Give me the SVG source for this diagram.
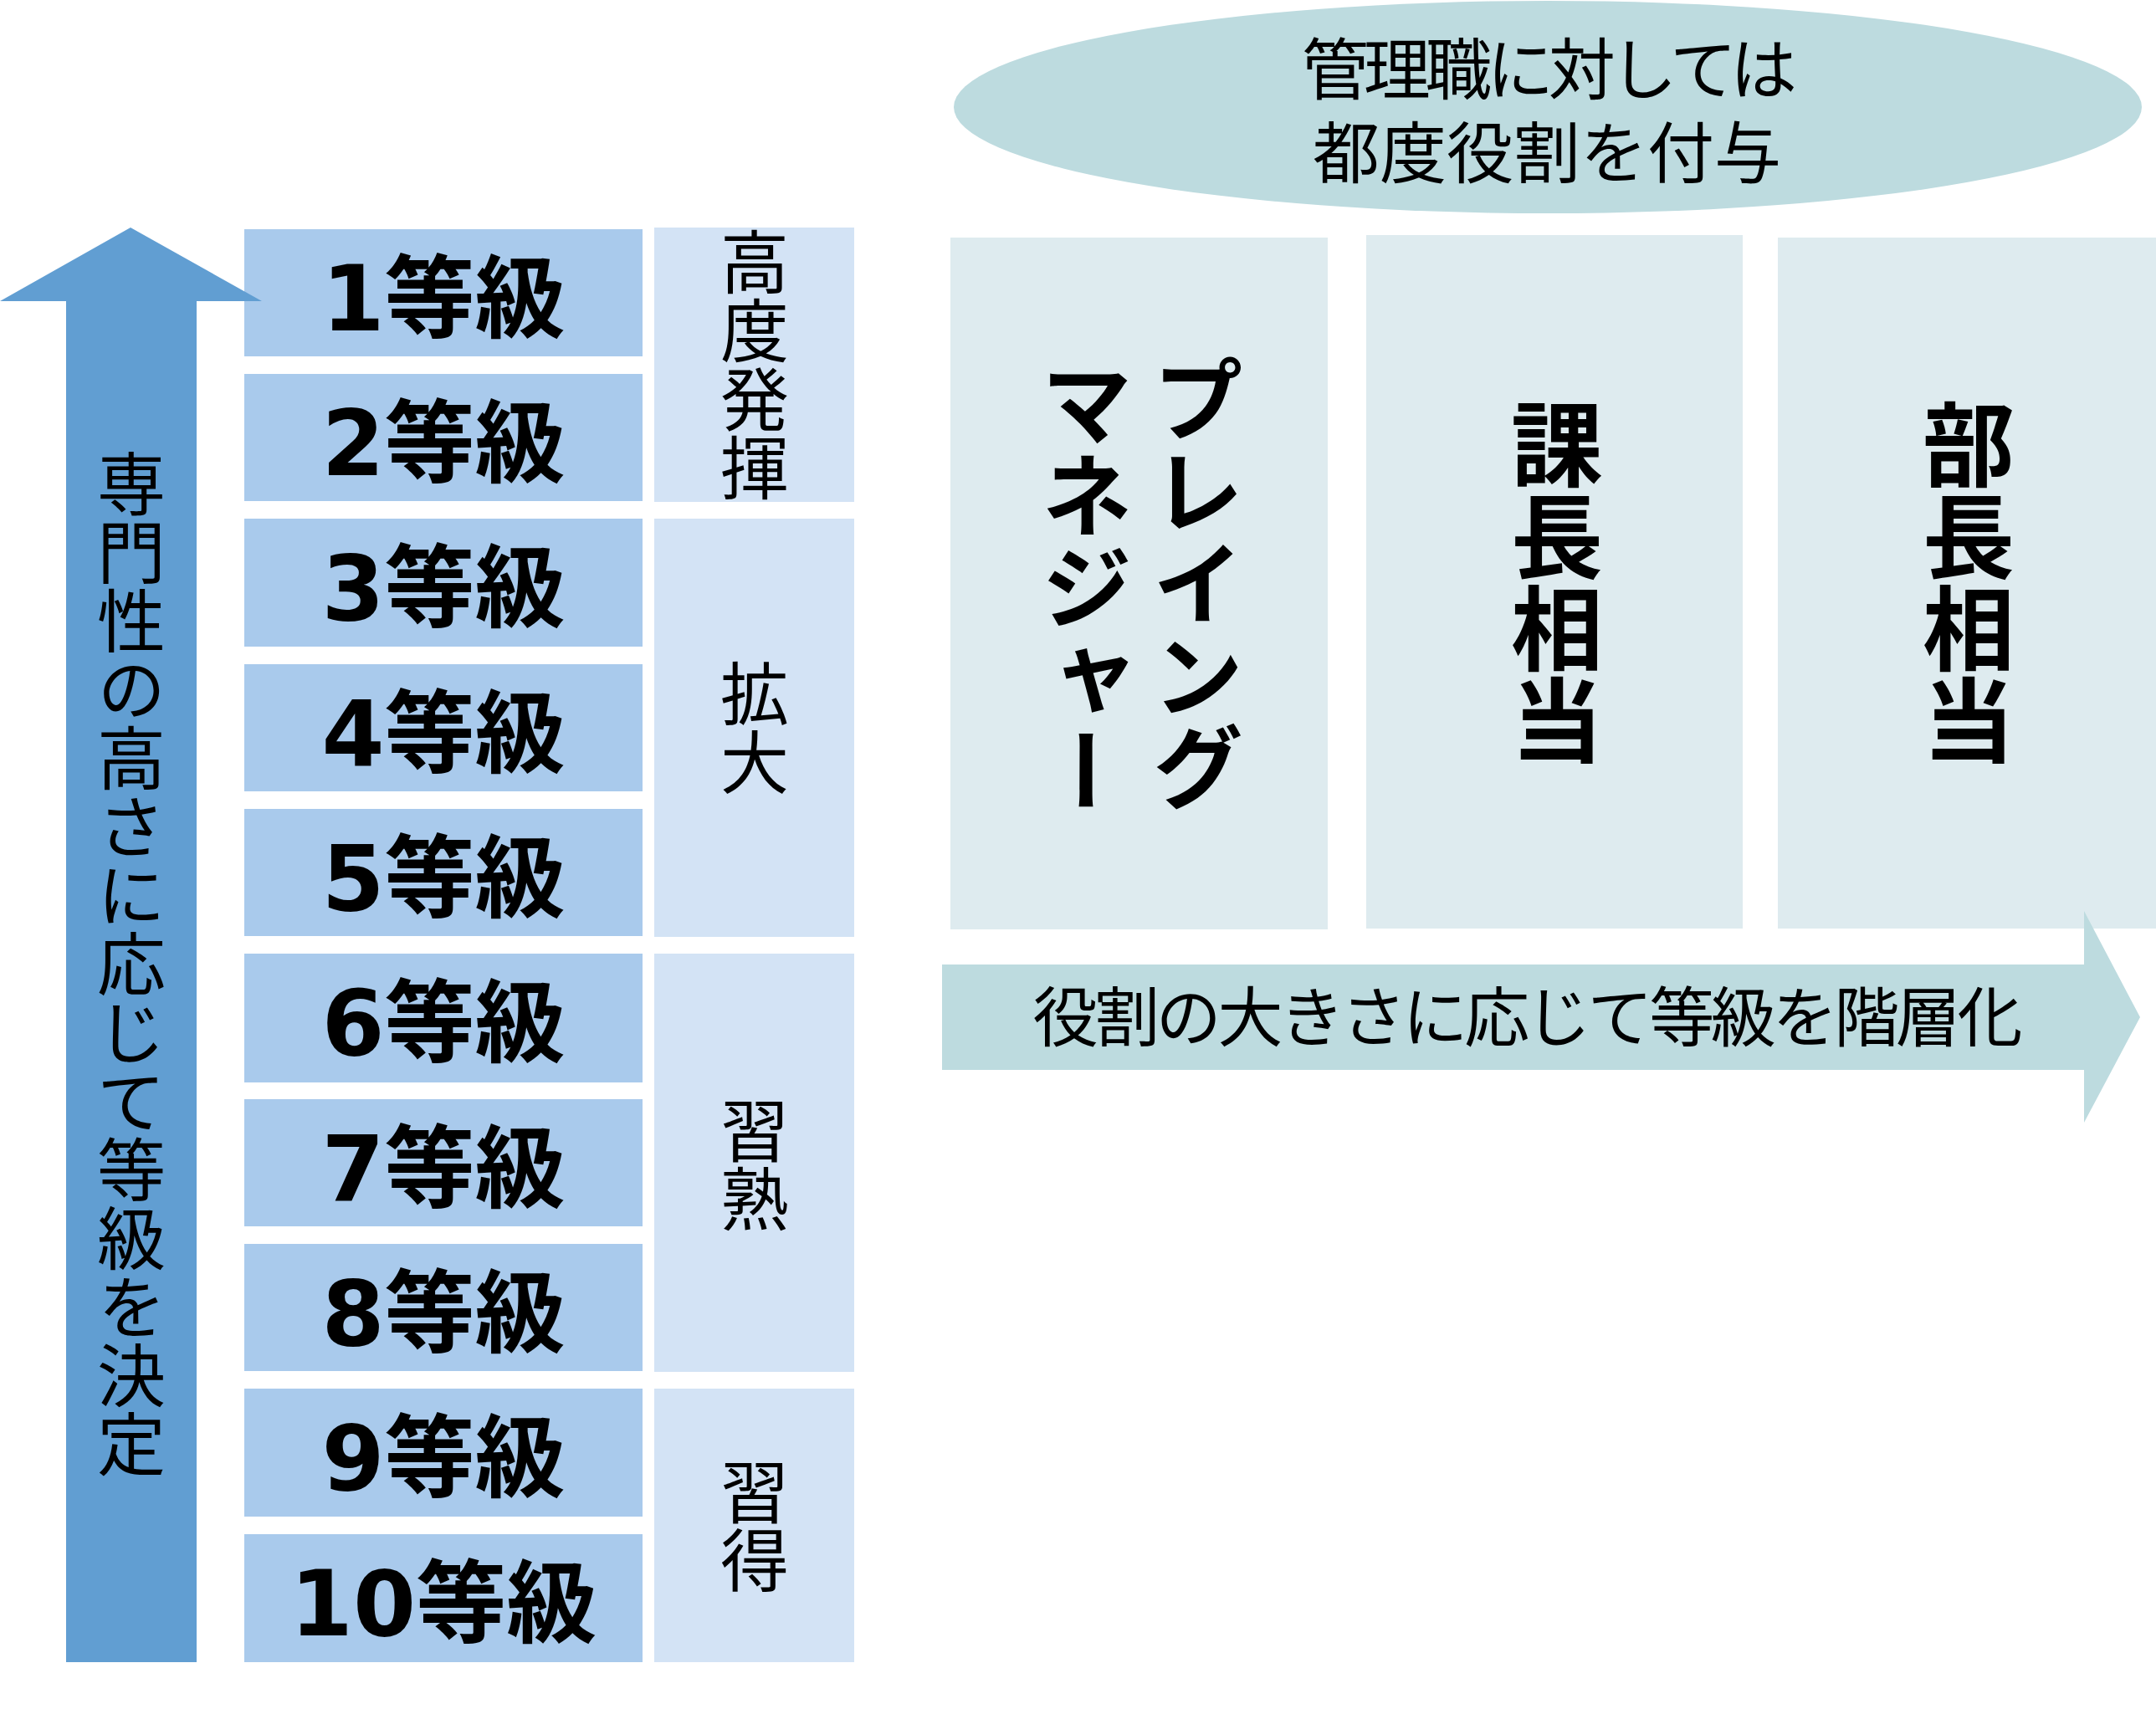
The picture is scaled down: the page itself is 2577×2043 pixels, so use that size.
<svg xmlns="http://www.w3.org/2000/svg" width="2577" height="2043" viewBox="0 0 2577 2043">
<defs>
<style>
.grade{fill:#A9CAEC}
.group{fill:#D3E3F5}
.panel{fill:#DEEBEF}
.teal{fill:#BDDBDF}
.glbl{font-family:"DejaVu Sans","Noto Sans CJK JP",sans-serif;font-weight:700;font-size:108px;fill:#000;text-anchor:middle}
.vt{font-family:"Noto Sans CJK JP",sans-serif;font-size:82px;fill:#000;writing-mode:vertical-rl;text-anchor:middle}
.vb{font-family:"Noto Sans CJK JP",sans-serif;font-weight:700;font-size:110px;fill:#000;writing-mode:vertical-rl;text-anchor:middle}
.ht{font-family:"Noto Sans CJK JP",sans-serif;font-size:80px;fill:#000;text-anchor:middle}
</style>
</defs>
<rect width="2577" height="2043" fill="#FFFFFF"/>
<g id="grade1"><rect class="grade" x="292" y="274" width="476" height="152"/><text class="glbl" x="530" y="395">1等級</text></g>
<g id="grade2"><rect class="grade" x="292" y="447" width="476" height="152"/><text class="glbl" x="530" y="568">2等級</text></g>
<g id="grade3"><rect class="grade" x="292" y="620" width="476" height="153"/><text class="glbl" x="530" y="741">3等級</text></g>
<g id="grade4"><rect class="grade" x="292" y="794" width="476" height="152"/><text class="glbl" x="530" y="915">4等級</text></g>
<g id="grade5"><rect class="grade" x="292" y="967" width="476" height="152"/><text class="glbl" x="530" y="1088">5等級</text></g>
<g id="grade6"><rect class="grade" x="292" y="1140" width="476" height="154"/><text class="glbl" x="530" y="1261">6等級</text></g>
<g id="grade7"><rect class="grade" x="292" y="1314" width="476" height="152"/><text class="glbl" x="530" y="1435">7等級</text></g>
<g id="grade8"><rect class="grade" x="292" y="1487" width="476" height="152"/><text class="glbl" x="530" y="1608">8等級</text></g>
<g id="grade9"><rect class="grade" x="292" y="1660" width="476" height="153"/><text class="glbl" x="530" y="1781">9等級</text></g>
<g id="grade10"><rect class="grade" x="292" y="1834" width="476" height="153"/><text class="glbl" x="530" y="1955">10等級</text></g>
<g id="group-high"><rect class="group" x="782" y="272" width="239" height="328"/><text class="vt" x="902" y="436">高度発揮</text></g>
<g id="group-expand"><rect class="group" x="782" y="620" width="239" height="500"/><text class="vt" x="902" y="870">拡大</text></g>
<g id="group-master"><rect class="group" x="782" y="1140" width="239" height="500"/><text class="vt" x="902" y="1392">習熟</text></g>
<g id="group-acquire"><rect class="group" x="782" y="1660" width="239" height="327"/><text class="vt" x="902" y="1824">習得</text></g>
<g id="ellipse-note"><ellipse class="teal" cx="1850" cy="128" rx="710" ry="127"/>
<text class="ht" x="1852" y="112" textLength="592" lengthAdjust="spacing">管理職に対しては</text>
<text class="ht" x="1849" y="212">都度役割を付与</text></g>
<g id="panel-playing"><rect class="panel" x="1136" y="284" width="451" height="827"/>
<text class="vb"><tspan x="1432" y="697">プレイング</tspan><tspan x="1299" y="702">マネジャー</tspan></text></g>
<g id="panel-kacho"><rect class="panel" x="1633" y="281" width="450" height="829"/><text class="vb" x="1861" y="696">課長相当</text></g>
<g id="panel-bucho"><rect class="panel" x="2125" y="284" width="452" height="826"/><text class="vb" x="2353" y="696">部長相当</text></g>
<g id="connectors">
<polygon id="arrow-vertical" points="156,272 313,360 235,360 235,1987 79,1987 79,360 0,360" fill="#619ED2"/>
<text class="vt" x="157" y="1152">専門性の高さに応じて等級を決定</text>
<polygon id="arrow-horizontal" class="teal" points="1126,1153 2491,1153 2491,1089 2558,1216 2491,1342 2491,1279 1126,1279"/>
<text class="ht" x="1826" y="1245" textLength="1183" lengthAdjust="spacing" style="font-size:78px">役割の大きさに応じて等級を階層化</text>
</g>
</svg>
